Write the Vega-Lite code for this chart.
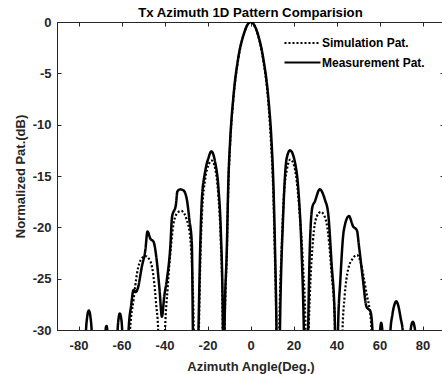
{
  "$schema": "https://vega.github.io/schema/vega-lite/v6.json",
  "width": 387,
  "height": 308,
  "autosize": {"type": "none"},
  "padding": {"left": 57, "top": 22, "right": 0, "bottom": 44},
  "title": {"text": "Tx Azimuth 1D Pattern Comparision", "font": "Liberation Sans", "fontSize": 13.2, "fontWeight": "bold", "color": "black", "offset": -4},
  "config": {
    "view": {"stroke": "#262626", "strokeWidth": 1},
    "axis": {"grid": false, "domainColor": "#262626", "tickColor": "#262626", "tickSize": -4}
  },
  "data": {"values": [
    {"s": "Measurement Pat.", "a": -90, "v": -42},
    {"s": "Measurement Pat.", "a": -80, "v": -42},
    {"s": "Measurement Pat.", "a": -77.2, "v": -36},
    {"s": "Measurement Pat.", "a": -76.6, "v": -30.5},
    {"s": "Measurement Pat.", "a": -76.0, "v": -28.8},
    {"s": "Measurement Pat.", "a": -75.2, "v": -28.1},
    {"s": "Measurement Pat.", "a": -74.4, "v": -28.8},
    {"s": "Measurement Pat.", "a": -73.8, "v": -30.5},
    {"s": "Measurement Pat.", "a": -73.2, "v": -36},
    {"s": "Measurement Pat.", "a": -70, "v": -40},
    {"s": "Measurement Pat.", "a": -68.2, "v": -34},
    {"s": "Measurement Pat.", "a": -67.6, "v": -30.5},
    {"s": "Measurement Pat.", "a": -67.0, "v": -29.6},
    {"s": "Measurement Pat.", "a": -66.4, "v": -30.5},
    {"s": "Measurement Pat.", "a": -65.8, "v": -34},
    {"s": "Measurement Pat.", "a": -64, "v": -40},
    {"s": "Measurement Pat.", "a": -62.4, "v": -34},
    {"s": "Measurement Pat.", "a": -61.8, "v": -30},
    {"s": "Measurement Pat.", "a": -61.3, "v": -28.8},
    {"s": "Measurement Pat.", "a": -60.8, "v": -28.4},
    {"s": "Measurement Pat.", "a": -60.2, "v": -28.8},
    {"s": "Measurement Pat.", "a": -59.7, "v": -30},
    {"s": "Measurement Pat.", "a": -59.2, "v": -34},
    {"s": "Measurement Pat.", "a": -58, "v": -42},
    {"s": "Measurement Pat.", "a": -57.2, "v": -34},
    {"s": "Measurement Pat.", "a": -56.7, "v": -30},
    {"s": "Measurement Pat.", "a": -55.5, "v": -27.6},
    {"s": "Measurement Pat.", "a": -54.4, "v": -26.1},
    {"s": "Measurement Pat.", "a": -53.4, "v": -26.3},
    {"s": "Measurement Pat.", "a": -52.5, "v": -26.0},
    {"s": "Measurement Pat.", "a": -50.5, "v": -23.8},
    {"s": "Measurement Pat.", "a": -48.9, "v": -22.2},
    {"s": "Measurement Pat.", "a": -47.9, "v": -20.4},
    {"s": "Measurement Pat.", "a": -46.6, "v": -21.1},
    {"s": "Measurement Pat.", "a": -45.1, "v": -21.4},
    {"s": "Measurement Pat.", "a": -43.8, "v": -22.9},
    {"s": "Measurement Pat.", "a": -42.3, "v": -26.1},
    {"s": "Measurement Pat.", "a": -41.2, "v": -28.7},
    {"s": "Measurement Pat.", "a": -40.1, "v": -26.7},
    {"s": "Measurement Pat.", "a": -38.9, "v": -25.1},
    {"s": "Measurement Pat.", "a": -37.3, "v": -21.9},
    {"s": "Measurement Pat.", "a": -36.5, "v": -19.0},
    {"s": "Measurement Pat.", "a": -34.7, "v": -17.8},
    {"s": "Measurement Pat.", "a": -34.0, "v": -16.5},
    {"s": "Measurement Pat.", "a": -32.7, "v": -16.3},
    {"s": "Measurement Pat.", "a": -31.2, "v": -16.4},
    {"s": "Measurement Pat.", "a": -29.6, "v": -17.3},
    {"s": "Measurement Pat.", "a": -28.4, "v": -19.3},
    {"s": "Measurement Pat.", "a": -27.3, "v": -21.5},
    {"s": "Measurement Pat.", "a": -26.8, "v": -30},
    {"s": "Measurement Pat.", "a": -26.0, "v": -45},
    {"s": "Measurement Pat.", "a": -24.2, "v": -30},
    {"s": "Measurement Pat.", "a": -23.4, "v": -22.0},
    {"s": "Measurement Pat.", "a": -22.6, "v": -17.2},
    {"s": "Measurement Pat.", "a": -21.1, "v": -14.6},
    {"s": "Measurement Pat.", "a": -19.5, "v": -13.2},
    {"s": "Measurement Pat.", "a": -18.2, "v": -12.6},
    {"s": "Measurement Pat.", "a": -16.5, "v": -13.6},
    {"s": "Measurement Pat.", "a": -14.9, "v": -16.2},
    {"s": "Measurement Pat.", "a": -13.8, "v": -20.4},
    {"s": "Measurement Pat.", "a": -12.9, "v": -28.5},
    {"s": "Measurement Pat.", "a": -12.5, "v": -45},
    {"s": "Measurement Pat.", "a": -12.1, "v": -30},
    {"s": "Measurement Pat.", "a": -11.0, "v": -22},
    {"s": "Measurement Pat.", "a": -10.3, "v": -15.5},
    {"s": "Measurement Pat.", "a": -9.5, "v": -11.7},
    {"s": "Measurement Pat.", "a": -8.0, "v": -7.4},
    {"s": "Measurement Pat.", "a": -5.7, "v": -3.5},
    {"s": "Measurement Pat.", "a": -3.3, "v": -1.3},
    {"s": "Measurement Pat.", "a": 0, "v": 0},
    {"s": "Measurement Pat.", "a": 3.6, "v": -1.3},
    {"s": "Measurement Pat.", "a": 5.9, "v": -3.5},
    {"s": "Measurement Pat.", "a": 8.3, "v": -7.4},
    {"s": "Measurement Pat.", "a": 9.8, "v": -11.7},
    {"s": "Measurement Pat.", "a": 10.6, "v": -15.5},
    {"s": "Measurement Pat.", "a": 11.4, "v": -22},
    {"s": "Measurement Pat.", "a": 12.1, "v": -30},
    {"s": "Measurement Pat.", "a": 12.8, "v": -45},
    {"s": "Measurement Pat.", "a": 13.7, "v": -30},
    {"s": "Measurement Pat.", "a": 15.2, "v": -18.8},
    {"s": "Measurement Pat.", "a": 16.8, "v": -13.3},
    {"s": "Measurement Pat.", "a": 18.4, "v": -12.5},
    {"s": "Measurement Pat.", "a": 20.6, "v": -13.6},
    {"s": "Measurement Pat.", "a": 22.2, "v": -16.2},
    {"s": "Measurement Pat.", "a": 23.7, "v": -22},
    {"s": "Measurement Pat.", "a": 24.8, "v": -30},
    {"s": "Measurement Pat.", "a": 25.8, "v": -45},
    {"s": "Measurement Pat.", "a": 26.8, "v": -30},
    {"s": "Measurement Pat.", "a": 27.6, "v": -21.9},
    {"s": "Measurement Pat.", "a": 28.8, "v": -18},
    {"s": "Measurement Pat.", "a": 29.9, "v": -17.5},
    {"s": "Measurement Pat.", "a": 32.2, "v": -16.3},
    {"s": "Measurement Pat.", "a": 34.6, "v": -17.3},
    {"s": "Measurement Pat.", "a": 36.1, "v": -18.6},
    {"s": "Measurement Pat.", "a": 37.7, "v": -23.5},
    {"s": "Measurement Pat.", "a": 39.2, "v": -29},
    {"s": "Measurement Pat.", "a": 40.0, "v": -45},
    {"s": "Measurement Pat.", "a": 40.7, "v": -30},
    {"s": "Measurement Pat.", "a": 41.8, "v": -25.1},
    {"s": "Measurement Pat.", "a": 43.4, "v": -20.3},
    {"s": "Measurement Pat.", "a": 45.8, "v": -18.9},
    {"s": "Measurement Pat.", "a": 47.7, "v": -19.9},
    {"s": "Measurement Pat.", "a": 49.5, "v": -20.3},
    {"s": "Measurement Pat.", "a": 50.5, "v": -21.9},
    {"s": "Measurement Pat.", "a": 52.3, "v": -25.1},
    {"s": "Measurement Pat.", "a": 53.9, "v": -27.7},
    {"s": "Measurement Pat.", "a": 55.8, "v": -28.2},
    {"s": "Measurement Pat.", "a": 56.7, "v": -30},
    {"s": "Measurement Pat.", "a": 58, "v": -40},
    {"s": "Measurement Pat.", "a": 59.6, "v": -32},
    {"s": "Measurement Pat.", "a": 60.2, "v": -30.2},
    {"s": "Measurement Pat.", "a": 60.8, "v": -29.3},
    {"s": "Measurement Pat.", "a": 61.4, "v": -30.2},
    {"s": "Measurement Pat.", "a": 62, "v": -32},
    {"s": "Measurement Pat.", "a": 63.5, "v": -40},
    {"s": "Measurement Pat.", "a": 65, "v": -30.3},
    {"s": "Measurement Pat.", "a": 66, "v": -28.5},
    {"s": "Measurement Pat.", "a": 67, "v": -27.5},
    {"s": "Measurement Pat.", "a": 67.8, "v": -27.2},
    {"s": "Measurement Pat.", "a": 68.7, "v": -27.6},
    {"s": "Measurement Pat.", "a": 69.8, "v": -28.8},
    {"s": "Measurement Pat.", "a": 70.9, "v": -30.3},
    {"s": "Measurement Pat.", "a": 72.5, "v": -38},
    {"s": "Measurement Pat.", "a": 74.3, "v": -30.3},
    {"s": "Measurement Pat.", "a": 75.5, "v": -29.2},
    {"s": "Measurement Pat.", "a": 76.7, "v": -30.3},
    {"s": "Measurement Pat.", "a": 78.5, "v": -38},
    {"s": "Measurement Pat.", "a": 90, "v": -42},

    {"s": "Simulation Pat.", "a": -90, "v": -45},
    {"s": "Simulation Pat.", "a": -60, "v": -45},
    {"s": "Simulation Pat.", "a": -57, "v": -36},
    {"s": "Simulation Pat.", "a": -56.0, "v": -30},
    {"s": "Simulation Pat.", "a": -54.4, "v": -27.1},
    {"s": "Simulation Pat.", "a": -52.8, "v": -24.5},
    {"s": "Simulation Pat.", "a": -50.5, "v": -23.0},
    {"s": "Simulation Pat.", "a": -48.9, "v": -22.8},
    {"s": "Simulation Pat.", "a": -46.6, "v": -23.3},
    {"s": "Simulation Pat.", "a": -45.1, "v": -24.8},
    {"s": "Simulation Pat.", "a": -43.8, "v": -27.7},
    {"s": "Simulation Pat.", "a": -43.0, "v": -29.7},
    {"s": "Simulation Pat.", "a": -41.4, "v": -45},
    {"s": "Simulation Pat.", "a": -39.7, "v": -29.7},
    {"s": "Simulation Pat.", "a": -38.6, "v": -26.1},
    {"s": "Simulation Pat.", "a": -37.0, "v": -21.9},
    {"s": "Simulation Pat.", "a": -35.5, "v": -19.3},
    {"s": "Simulation Pat.", "a": -33.5, "v": -18.5},
    {"s": "Simulation Pat.", "a": -32.2, "v": -18.4},
    {"s": "Simulation Pat.", "a": -29.6, "v": -19.3},
    {"s": "Simulation Pat.", "a": -28.1, "v": -20.9},
    {"s": "Simulation Pat.", "a": -27.0, "v": -25},
    {"s": "Simulation Pat.", "a": -26.4, "v": -30},
    {"s": "Simulation Pat.", "a": -25.8, "v": -45},
    {"s": "Simulation Pat.", "a": -24.0, "v": -30},
    {"s": "Simulation Pat.", "a": -23.3, "v": -23},
    {"s": "Simulation Pat.", "a": -22.5, "v": -18.5},
    {"s": "Simulation Pat.", "a": -21.0, "v": -15.2},
    {"s": "Simulation Pat.", "a": -19.5, "v": -13.9},
    {"s": "Simulation Pat.", "a": -18.0, "v": -13.5},
    {"s": "Simulation Pat.", "a": -16.5, "v": -14.2},
    {"s": "Simulation Pat.", "a": -15.0, "v": -16.8},
    {"s": "Simulation Pat.", "a": -13.9, "v": -21},
    {"s": "Simulation Pat.", "a": -13.0, "v": -28},
    {"s": "Simulation Pat.", "a": -12.5, "v": -45},
    {"s": "Simulation Pat.", "a": -12.0, "v": -30},
    {"s": "Simulation Pat.", "a": -11.0, "v": -22.5},
    {"s": "Simulation Pat.", "a": -10.3, "v": -16},
    {"s": "Simulation Pat.", "a": -9.5, "v": -12},
    {"s": "Simulation Pat.", "a": -8.0, "v": -7.6},
    {"s": "Simulation Pat.", "a": -5.7, "v": -3.6},
    {"s": "Simulation Pat.", "a": -3.3, "v": -1.3},
    {"s": "Simulation Pat.", "a": 0, "v": 0},
    {"s": "Simulation Pat.", "a": 3.5, "v": -1.3},
    {"s": "Simulation Pat.", "a": 5.8, "v": -3.6},
    {"s": "Simulation Pat.", "a": 8.2, "v": -7.6},
    {"s": "Simulation Pat.", "a": 9.6, "v": -12},
    {"s": "Simulation Pat.", "a": 10.5, "v": -16},
    {"s": "Simulation Pat.", "a": 11.3, "v": -22.5},
    {"s": "Simulation Pat.", "a": 12.0, "v": -30},
    {"s": "Simulation Pat.", "a": 12.6, "v": -45},
    {"s": "Simulation Pat.", "a": 13.4, "v": -30},
    {"s": "Simulation Pat.", "a": 14.5, "v": -22},
    {"s": "Simulation Pat.", "a": 15.5, "v": -17},
    {"s": "Simulation Pat.", "a": 17.0, "v": -14.3},
    {"s": "Simulation Pat.", "a": 18.5, "v": -13.4},
    {"s": "Simulation Pat.", "a": 20.0, "v": -13.8},
    {"s": "Simulation Pat.", "a": 21.5, "v": -15.5},
    {"s": "Simulation Pat.", "a": 23.0, "v": -19},
    {"s": "Simulation Pat.", "a": 24.5, "v": -24},
    {"s": "Simulation Pat.", "a": 25.6, "v": -30},
    {"s": "Simulation Pat.", "a": 26.3, "v": -45},
    {"s": "Simulation Pat.", "a": 27.1, "v": -30},
    {"s": "Simulation Pat.", "a": 27.6, "v": -26.7},
    {"s": "Simulation Pat.", "a": 29.1, "v": -21.2},
    {"s": "Simulation Pat.", "a": 30.7, "v": -19},
    {"s": "Simulation Pat.", "a": 32.7, "v": -18.5},
    {"s": "Simulation Pat.", "a": 34.6, "v": -19},
    {"s": "Simulation Pat.", "a": 36.1, "v": -20.6},
    {"s": "Simulation Pat.", "a": 37.7, "v": -24.5},
    {"s": "Simulation Pat.", "a": 39.2, "v": -29},
    {"s": "Simulation Pat.", "a": 40.2, "v": -45},
    {"s": "Simulation Pat.", "a": 41.4, "v": -45},
    {"s": "Simulation Pat.", "a": 42.8, "v": -30},
    {"s": "Simulation Pat.", "a": 43.8, "v": -26.7},
    {"s": "Simulation Pat.", "a": 45.4, "v": -24.1},
    {"s": "Simulation Pat.", "a": 47.7, "v": -23.0},
    {"s": "Simulation Pat.", "a": 49.5, "v": -22.7},
    {"s": "Simulation Pat.", "a": 51.1, "v": -23.3},
    {"s": "Simulation Pat.", "a": 52.6, "v": -24.8},
    {"s": "Simulation Pat.", "a": 54.2, "v": -26.7},
    {"s": "Simulation Pat.", "a": 55.4, "v": -28},
    {"s": "Simulation Pat.", "a": 56.2, "v": -29.7},
    {"s": "Simulation Pat.", "a": 57.2, "v": -40},
    {"s": "Simulation Pat.", "a": 60, "v": -45},
    {"s": "Simulation Pat.", "a": 90, "v": -45}
  ]},
  "layer": [
    {
      "transform": [{"filter": "datum.s == 'Simulation Pat.'"}],
      "mark": {"type": "line", "clip": true, "color": "black", "strokeWidth": 2.2, "interpolate": "monotone"},
      "encoding": {
        "x": {"field": "a", "type": "quantitative", "scale": {"domain": [-90, 90], "nice": false},
              "axis": {"orient": "bottom", "title": "Azimuth Angle(Deg.)", "values": [-80, -60, -40, -20, 0, 20, 40, 60, 80],
                       "labelExpr": "datum.value < 0 ? '-' + abs(datum.value) : '' + datum.value",
                       "labelFont": "Liberation Sans", "labelFontSize": 13, "labelFontWeight": "bold", "labelColor": "#262626", "labelPadding": 13,
                       "titleFont": "Liberation Sans", "titleFontSize": 13, "titleFontWeight": "bold", "titleColor": "#262626", "titlePadding": 8}},
        "y": {"field": "v", "type": "quantitative", "scale": {"domain": [-30, 0], "nice": false, "zero": false},
              "axis": {"orient": "left", "title": "Normalized Pat.(dB)", "values": [0, -5, -10, -15, -20, -25, -30],
                       "labelExpr": "datum.value < 0 ? '-' + abs(datum.value) : '' + datum.value",
                       "labelFont": "Liberation Sans", "labelFontSize": 13, "labelFontWeight": "bold", "labelColor": "#262626", "labelPadding": 10,
                       "titleFont": "Liberation Sans", "titleFontSize": 13, "titleFontWeight": "bold", "titleColor": "#262626", "titlePadding": 5}},
        "strokeDash": {"field": "s", "type": "nominal",
          "scale": {"domain": ["Simulation Pat.", "Measurement Pat."], "range": [[2, 2], [1, 0]]},
          "legend": {"title": null, "orient": "none", "legendX": 226, "legendY": 13, "symbolType": "stroke", "symbolSize": 1296, "symbolStrokeWidth": 2.2, "symbolStrokeColor": "black", "labelFont": "Liberation Sans", "labelFontSize": 12, "labelFontWeight": "bold", "labelColor": "black", "labelOffset": 0, "clipHeight": 16, "rowPadding": 3.5}}
      }
    },
    {
      "transform": [{"filter": "datum.s == 'Measurement Pat.'"}],
      "mark": {"type": "line", "clip": true, "color": "black", "strokeWidth": 2.5, "interpolate": "monotone"},
      "encoding": {
        "x": {"field": "a", "type": "quantitative",
              "axis": {"orient": "top", "title": null, "labels": false, "domain": false, "values": [-80, -60, -40, -20, 0, 20, 40, 60, 80]}},
        "y": {"field": "v", "type": "quantitative",
              "axis": {"orient": "right", "title": null, "labels": false, "domain": false, "values": [0, -5, -10, -15, -20, -25, -30]}},
        "strokeDash": {"field": "s", "type": "nominal"}
      }
    }
  ],
  "resolve": {"axis": {"x": "independent", "y": "independent"}}
}
